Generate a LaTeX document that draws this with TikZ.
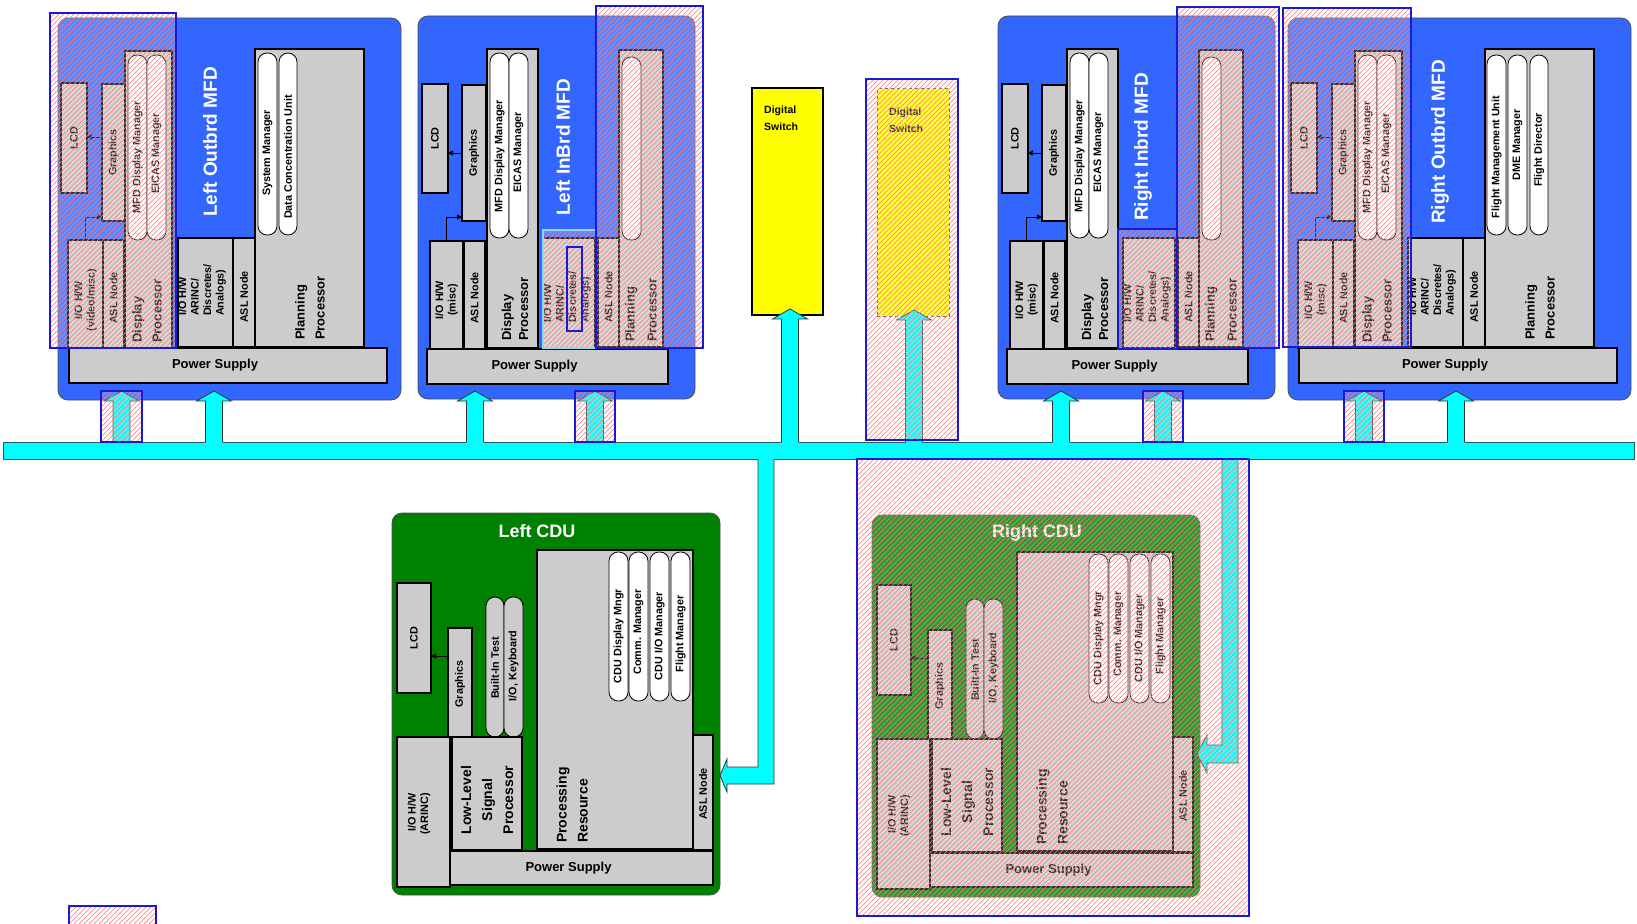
\documentclass[tikz,border=0pt]{standalone}
\usepackage{fontspec}
\setmainfont{Liberation Sans}
\usetikzlibrary{arrows.meta,patterns}
\definecolor{mfdblue}{RGB}{51,102,255}
\definecolor{cdugreen}{RGB}{0,128,0}
\definecolor{compgray}{RGB}{204,204,204}
\definecolor{buscyan}{RGB}{0,255,255}
\definecolor{swyellow}{RGB}{255,255,0}
\definecolor{hatchred}{RGB}{255,120,120}
\definecolor{hatchblue}{RGB}{25,25,215}
\definecolor{busedge}{RGB}{40,90,90}
\pgfdeclarepatternformonly{redhatch}{\pgfqpoint{-1pt}{-1pt}}{\pgfqpoint{6pt}{6pt}}{\pgfqpoint{5pt}{5pt}}{%
  \pgfsetlinewidth{0.6pt}%
  \pgfpathmoveto{\pgfqpoint{-0.2pt}{-0.2pt}}%
  \pgfpathlineto{\pgfqpoint{5.2pt}{5.2pt}}%
  \pgfusepath{stroke}}
\tikzset{
  comp/.style={draw=black,line width=1.4pt,fill=compgray,inner sep=0pt,outer sep=0pt},
  pill/.style={draw=black,line width=0.8pt,fill=white,rounded corners=9pt,inner sep=0pt,outer sep=0pt},
  gpill/.style={pill,fill=compgray},
  mfdbox/.style={draw=black!70,line width=0.8pt,fill=mfdblue,rounded corners=10pt,inner sep=0pt,outer sep=0pt},
  cdubox/.style={mfdbox,fill=cdugreen},
  busbox/.style={draw=busedge,line width=1pt,fill=buscyan,inner sep=0pt,outer sep=0pt},
  swbox/.style={draw=black,line width=1.4pt,fill=swyellow,inner sep=0pt,outer sep=0pt},
  swdash/.style={draw=black!70,line width=1pt,dashed,fill=swyellow,inner sep=0pt,outer sep=0pt},
  txs/.style={inner sep=0pt,font=\fontsize{10.8}{12.5}\selectfont\bfseries,align=center},
  txb/.style={inner sep=0pt,font=\fontsize{13}{20}\selectfont\bfseries,align=left},
  ttl/.style={inner sep=0pt,font=\fontsize{19}{22}\selectfont\bfseries,text=white},
  sarr/.style={-{Triangle[length=5pt,width=5pt]},line width=0.7pt,draw=black},
  arrfill/.style={fill=buscyan},
  arredge/.style={draw=black!80,line width=0.8pt,line join=miter},
}
\newcommand\cbox[6][comp]{\node[#1,anchor=north west,minimum width={#5-#3},minimum height={#6-#4}] (#2) at (#3,#4) {};}
\newcommand\busarrow[2]{%
  \fill[arrfill] (#1-8.5,443.5) -- (#1-8.5,#2+10) -- (#1-17.5,#2+10) -- (#1,#2) -- (#1+17.5,#2+10) -- (#1+8.5,#2+10) -- (#1+8.5,443.5) -- cycle;
  \draw[arredge] (#1-8.5,442) -- (#1-8.5,#2+10) -- (#1-17.5,#2+10) -- (#1,#2) -- (#1+17.5,#2+10) -- (#1+8.5,#2+10) -- (#1+8.5,442);}
\newcommand\hatchrect[5][hatchblue]{%
  \fill[white,fill opacity=0.2] (#2,#3) rectangle (#4,#5);
  \fill[pattern=redhatch,pattern color=hatchred] (#2,#3) rectangle (#4,#5);
  \draw[#1,line width=1.4pt] (#2,#3) rectangle (#4,#5);}
\newcommand\outbrd[2]{%
  \cbox[mfdbox]{box}{58}{18}{401}{400}
  \cbox{lcd}{61}{83}{87}{193}
  \cbox{gfx}{102}{84}{125}{221}
  \cbox{dp}{125}{51}{172}{348}
  \cbox[pill]{p1}{128}{55}{147}{240}
  \cbox[pill]{p2}{147}{55}{166}{240}
  \cbox{io}{68}{240}{103}{348}
  \cbox{asl}{103}{240}{124}{348}
  \cbox{ioa}{178}{238}{233}{347}
  \cbox{asl2}{233}{238}{255}{347}
  \cbox{pp}{255}{49}{364}{347}
  \cbox{ps}{69}{348}{387}{383}
  \node[ttl,rotate=90] (title) at (210,142) {#1};
  \node[txs,rotate=90] (lcdt) at (lcd) {LCD};
  \node[txs,rotate=90] (gfxt) at (gfx) {Graphics};
  \node[txs,rotate=90] (p1t) at (137.5,157) {MFD Display Manager};
  \node[txs,rotate=90] (p2t) at (156.5,153) {EICAS Manager};
  \node[txs,rotate=90] (iot) at (85.5,300) {#2};
  \node[txs,rotate=90] (aslt) at (113.5,298) {ASL Node};
  \node[txb,rotate=90,anchor=west] (dpt) at (147,343) {Display\\Processor};
  \node[txs,rotate=90,anchor=west,align=left] (ioat) at (202,316) {I/O H/W\\ARINC/\\Discretes/\\Analogs)};
  \node[txs,rotate=90] (asl2t) at (244,297) {ASL Node};
  \node[txb,rotate=90,anchor=west] (ppt) at (310,340) {Planning\\Processor};
  \node[txb,align=center,xshift=-13pt] (pst) at (ps) {Power Supply};
  \draw[sarr] (gfx.west |- 0,137) -- (lcd.east |- 0,137);
  \draw[sarr] (io.north) |- (gfx.west |- 0,217);
}
\newcommand\inbrd[1]{%
  \cbox[mfdbox]{box}{418}{16}{695}{399}
  \cbox{lcd}{422}{84}{448}{193}
  \cbox{gfx}{462}{85}{486}{221}
  \cbox{dp}{487}{49}{538}{348}
  \cbox[pill]{p1}{490}{53}{509}{238}
  \cbox[pill]{p2}{509}{53}{528}{238}
  \cbox{io}{430}{241}{463}{350}
  \cbox{asl}{464}{241}{485}{350}
  \cbox{ioa}{543}{238}{595}{348}
  \cbox{asl2}{598}{238}{619}{347}
  \cbox{pp}{619}{50}{663}{347}
  \cbox[pill]{p3}{622}{57}{641}{240}
  \cbox{ps}{427}{349}{668}{384}
  \node[ttl,rotate=90] (title) at (563,147) {#1};
  \node[txs,rotate=90] (lcdt) at (lcd) {LCD};
  \node[txs,rotate=90] (gfxt) at (gfx) {Graphics};
  \node[txs,rotate=90] (p1t) at (499.5,156) {MFD Display Manager};
  \node[txs,rotate=90] (p2t) at (518.5,152) {EICAS Manager};
  \node[txs,rotate=90] (iot) at (446.5,300) {I/O H/W\\(misc)};
  \node[txs,rotate=90] (aslt) at (474.5,298) {ASL Node};
  \node[txb,rotate=90,anchor=west,font=\fontsize{13}{17}\selectfont\bfseries] (dpt) at (515,341) {Display\\Processor};
  \node[txs,rotate=90,anchor=west,align=left] (ioat) at (567,323) {I/O H/W\\ARINC/\\Discretes/\\Analogs)};
  \node[txs,rotate=90] (asl2t) at (608.5,297) {ASL Node};
  \node[txb,rotate=90,anchor=west,font=\fontsize{13}{22}\selectfont\bfseries] (ppt) at (641,342) {Planning\\Processor};
  \node[txb,align=center,xshift=-13pt] (pst) at (ps) {Power Supply};
  \draw[sarr] (gfx.west |- 0,153) -- (lcd.east |- 0,153);
  \draw[sarr] (io.north) |- (gfx.west |- 0,217);
}
\newcommand\cdu[2]{%
  \cbox[cdubox]{box}{392}{513}{720}{895}
  \cbox{lcd}{397}{583}{431}{693}
  \cbox{gfx}{448}{628}{472}{737}
  \cbox[gpill]{p1}{486}{597}{504}{737}
  \cbox[gpill]{p2}{504}{597}{523}{737}
  \cbox{io}{397}{737}{450}{887}
  \cbox{llsp}{452}{737}{522}{850}
  \cbox{pr}{537}{550}{693}{849}
  \cbox[pill]{q1}{609}{552}{628}{701}
  \cbox[pill]{q2}{629}{552}{648}{701}
  \cbox[pill]{q3}{650}{552}{669}{701}
  \cbox[pill]{q4}{671}{552}{690}{701}
  \cbox{asl}{693}{735}{713}{850}
  \cbox{ps}{450}{851}{713}{885}
  \node[ttl,font=\fontsize{18}{20}\selectfont\bfseries] (title) at (#1,531) {#2};
  \node[txs,rotate=90] (lcdt) at (lcd) {LCD};
  \node[txs,rotate=90] (gfxt) at (460,684) {Graphics};
  \node[txs,rotate=90] (p1t) at (495,668) {Built-In Test};
  \node[txs,rotate=90] (p2t) at (513.5,666) {I/O, Keyboard};
  \node[txs,rotate=90,anchor=east,align=right] (iot) at (419,793) {I/O H/W\\(ARINC)};
  \node[txb,rotate=90,align=center,font=\fontsize{14}{21}\selectfont\bfseries] (llspt) at (487,800) {Low-Level\\Signal\\Processor};
  \node[txb,rotate=90,anchor=west,font=\fontsize{14}{21}\selectfont\bfseries] (prt) at (572,843) {Processing\\Resource};
  \node[txs,rotate=90] (q1t) at (618.5,636) {CDU Display Mngr};
  \node[txs,rotate=90] (q2t) at (638.5,632) {Comm. Manager};
  \node[txs,rotate=90] (q3t) at (659.5,636) {CDU I/O Manager};
  \node[txs,rotate=90] (q4t) at (680.5,634) {Flight Manager};
  \node[txs,rotate=90] (aslt) at (703,794) {ASL Node};
  \node[txb,align=center,xshift=-13pt] (pst) at (ps) {Power Supply};
  \draw[sarr] (gfx.west |- 0,656) -- (lcd.east |- 0,656);
}
\begin{document}
\begin{tikzpicture}[x=1pt,y=-1pt]
\clip (0,0) rectangle (1637,923);
% ---------- MFDs ----------
\begin{scope}[name prefix=LO-]
  \outbrd{Left Outbrd MFD}{I/O H/W\\(video/misc)}
  \cbox[pill]{q1}{258}{53}{277}{235}
  \cbox[pill]{q2}{279}{53}{297}{235}
  \node[txs,rotate=90] (q1t) at (267.5,153) {System Manager};
  \node[txs,rotate=90] (q2t) at (288,157) {Data Concentration Unit};
\end{scope}
\begin{scope}[name prefix=RO-,shift={(1230,0)}]
  \outbrd{Right Outbrd MFD}{I/O H/W\\(misc)}
  \cbox[pill]{q1}{257}{55}{276}{235}
  \cbox[pill]{q2}{278}{55}{297}{235}
  \cbox[pill]{q3}{300}{55}{318}{235}
  \node[txs,rotate=90] (q1t) at (266.5,157) {Flight Management Unit};
  \node[txs,rotate=90] (q2t) at (287.5,145) {DME Manager};
  \node[txs,rotate=90] (q3t) at (309,150) {Flight Director};
\end{scope}
\begin{scope}[name prefix=LI-]
  \inbrd{Left InBrd MFD}
\end{scope}
\begin{scope}[name prefix=RI-,shift={(580,0)}]
  \inbrd{Right Inbrd MFD}
\end{scope}
% ---------- Digital switches ----------
\cbox[swbox]{ds}{752}{88}{823}{315}
\node[txs,align=left,anchor=west,font=\fontsize{10.5}{17}\selectfont\bfseries] (dst) at (764,118.5) {Digital\\Switch};
\cbox[swdash]{dsh}{877}{89}{949}{316}
\node[txs,align=left,anchor=west,font=\fontsize{10.5}{17}\selectfont\bfseries] (dsht) at (889,120.5) {Digital\\Switch};
% ---------- CDUs ----------
\begin{scope}[name prefix=LC-]
  \cdu{537}{Left CDU}
\end{scope}
\begin{scope}[name prefix=RC-,shift={(480,2)}]
  \cdu{557}{Right CDU}
\end{scope}
% ---------- Bus ----------
\cbox[busbox]{bus}{3}{442}{1634}{459}
\busarrow{121.5}{391}
\busarrow{214}{391}
\busarrow{475}{391}
\busarrow{595}{391}
\busarrow{790}{309}
\busarrow{914}{310}
\busarrow{1061}{391}
\busarrow{1163}{391}
\busarrow{1364}{391}
\busarrow{1456}{391}
% connectors to CDUs
\fill[arrfill] (758,457.5) -- (758,767) -- (727,767) -- (727,759) -- (720,775.5) -- (727,792) -- (727,784) -- (774,784) -- (774,457.5) -- cycle;
\draw[arredge] (758,459) -- (758,767) -- (727,767) -- (727,759) -- (720,775.5) -- (727,792) -- (727,784) -- (774,784) -- (774,459);
\fill[arrfill] (1222,457.5) -- (1222,745) -- (1207,745) -- (1207,735) -- (1197,754) -- (1207,773) -- (1207,763) -- (1238,763) -- (1238,457.5) -- cycle;
\draw[arredge] (1222,459) -- (1222,745) -- (1207,745) -- (1207,735) -- (1197,754) -- (1207,773) -- (1207,763) -- (1238,763) -- (1238,459);
% ---------- hatched overlays ----------
\hatchrect{50}{13}{176}{348}
\hatchrect[cyan!45]{543}{230}{596}{348}
\draw[hatchblue,line width=1.4pt] (567,247) rectangle (582,331);
\hatchrect{596}{6}{703}{348}
\hatchrect{866}{79}{958}{440}
\hatchrect{1118}{229}{1177}{349}
\hatchrect{1177}{7}{1279}{348}
\hatchrect{1283}{8}{1411}{347}
\hatchrect{101}{391}{142}{442}
\hatchrect{575}{391}{615}{442}
\hatchrect{1143}{391}{1183}{442}
\hatchrect{1344}{391}{1384}{442}
\hatchrect{857}{459}{1249}{916}
\hatchrect{69}{906}{156}{935}
\end{tikzpicture}
\end{document}
